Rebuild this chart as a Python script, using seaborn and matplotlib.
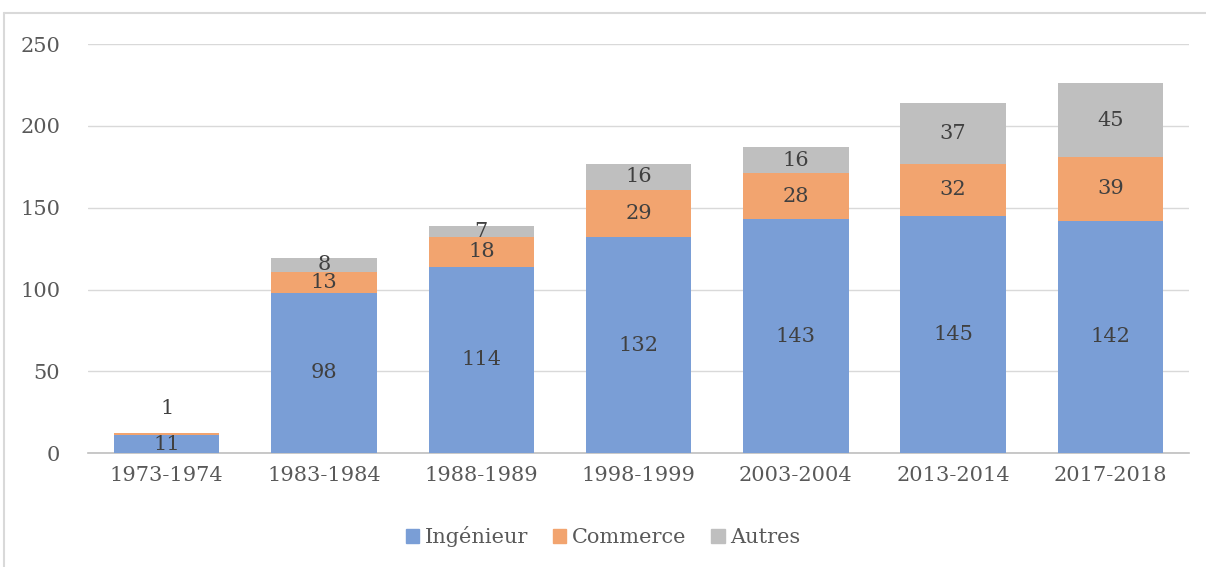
import numpy as np
import matplotlib.pyplot as plt
from matplotlib.patches import Patch
from matplotlib.lines import Line2D
import pandas as pd
import seaborn as sns

periodes = ['1973-1974', '1983-1984', '1988-1989', '1998-1999',
            '2003-2004', '2013-2014', '2017-2018']
ingenieur = [11, 98, 114, 132, 143, 145, 142]
commerce = [1, 13, 18, 29, 28, 32, 39]
autres = [0, 8, 7, 16, 16, 37, 45]

c_ing = '#7A9ED6'
c_com = '#F2A46F'
c_aut = '#BFBFBF'

sns.set_style('white')
plt.rcParams['font.family'] = ['DejaVu Serif']

df = pd.DataFrame({'periode': periodes, 'ing': ingenieur,
                   'com': commerce, 'aut': autres})
df['ing_com'] = df['ing'] + df['com']
df['total'] = df['ing_com'] + df['aut']

fig = plt.figure(figsize=(12.06, 5.67), dpi=100)
ax = fig.add_axes([0.073, 0.201, 0.913, 0.721])

# stacked bars by layering cumulative totals
sns.barplot(data=df, x='periode', y='total', color=c_aut, width=0.67,
            linewidth=0, saturation=1, ax=ax, zorder=2)
sns.barplot(data=df, x='periode', y='ing_com', color=c_com, width=0.67,
            linewidth=0, saturation=1, ax=ax, zorder=3)
sns.barplot(data=df, x='periode', y='ing', color=c_ing, width=0.67,
            linewidth=0, saturation=1, ax=ax, zorder=4)

lab_kw = dict(ha='center', va='center', fontsize=15, color='#404040', zorder=6)
for i, row in df.iterrows():
    ax.text(i, row['ing'] / 2, str(row['ing']), **lab_kw)
    if row['com'] > 2:
        ax.text(i, row['ing'] + row['com'] / 2, str(row['com']), **lab_kw)
    else:
        ax.annotate(str(row['com']), (i, row['total']), xytext=(0, 18),
                    textcoords='offset points', **lab_kw)
    if row['aut'] > 0:
        ax.text(i, row['ing_com'] + row['aut'] / 2, str(row['aut']), **lab_kw)

ax.set_ylim(0, 250)
ax.set_xlim(-0.5, len(periodes) - 0.5)
ax.set_yticks(np.arange(0, 251, 50))
ax.yaxis.grid(True, color='#D9D9D9', linewidth=1, zorder=0)
ax.set_axisbelow(True)
for s in ['top', 'right', 'left']:
    ax.spines[s].set_visible(False)
ax.spines['bottom'].set_color('#BFBFBF')
ax.spines['bottom'].set_linewidth(1.2)
ax.tick_params(axis='both', length=0, labelsize=15, colors='#595959', pad=9)
ax.tick_params(axis='y', pad=20)
ax.set_xlabel('')
ax.set_ylabel('')

handles = [Patch(color=c_ing, label='Ingénieur'),
           Patch(color=c_com, label='Commerce'),
           Patch(color=c_aut, label='Autres')]
leg = fig.legend(handles=handles, loc='center', bbox_to_anchor=(0.5, 0.053),
                 ncol=3, frameon=False, fontsize=15, handlelength=0.65,
                 handleheight=0.65, handletextpad=0.25, columnspacing=1.2)
for t in leg.get_texts():
    t.set_color('#595959')

# outer chart frame (top and left edges visible)
fig.add_artist(Line2D([0.0035, 1.0], [0.977, 0.977], transform=fig.transFigure,
                      color='#D9D9D9', linewidth=1.5))
fig.add_artist(Line2D([0.0035, 0.0035], [0.0, 0.977], transform=fig.transFigure,
                      color='#D9D9D9', linewidth=1.5))

fig.savefig('out.png', dpi=100)
